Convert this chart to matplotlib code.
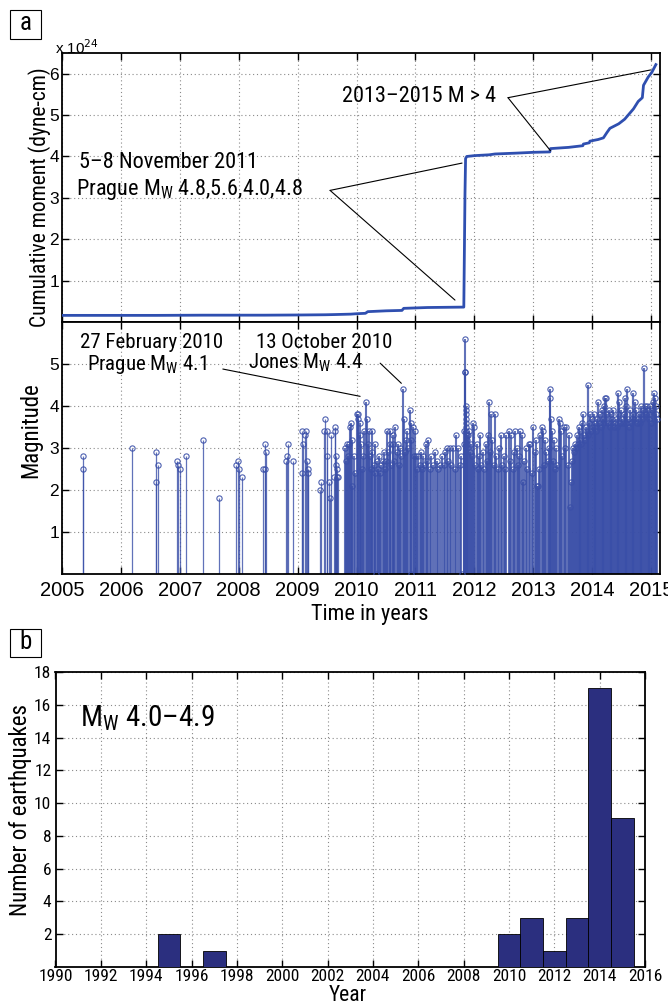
import matplotlib
matplotlib.use("Agg")
import matplotlib.pyplot as plt
import matplotlib.font_manager as fm
import numpy as np

# ---------------- DATA ----------------
# Panel a (top): cumulative seismic moment, units of 1e24 dyne-cm
moment_t = [2005.00, 2005.36, 2006.60, 2007.40, 2008.44, 2009.07, 2009.47, 2009.63,
            2009.90, 2010.00, 2010.15, 2010.19, 2010.50, 2010.77, 2010.80, 2011.20,
            2011.82, 2011.84, 2011.85, 2011.87, 2012.00, 2012.25, 2012.35, 2012.70,
            2013.00, 2013.28, 2013.29, 2013.60, 2013.84, 2013.85, 2013.95, 2013.96,
            2014.10, 2014.19, 2014.25, 2014.30, 2014.45, 2014.55, 2014.64, 2014.70,
            2014.78, 2014.85, 2014.87, 2014.95, 2015.01, 2015.08]
moment_v = [0.16, 0.16, 0.16, 0.165, 0.165, 0.17, 0.175, 0.18,
            0.19, 0.20, 0.21, 0.25, 0.27, 0.28, 0.33, 0.35,
            0.36, 3.10, 3.95, 4.00, 4.02, 4.04, 4.06, 4.08,
            4.10, 4.11, 4.19, 4.22, 4.26, 4.30, 4.33, 4.37,
            4.41, 4.45, 4.58, 4.68, 4.79, 4.90, 5.05, 5.15,
            5.33, 5.42, 5.72, 5.92, 6.03, 6.22]

# Panel a (bottom): earthquake magnitudes (time in decimal years, magnitude)
quakes_2005_2009 = [
    (2005.36, 2.8), (2005.36, 2.5), (2006.19, 3.0), (2006.60, 2.9), (2006.60, 2.2),
    (2006.63, 2.6), (2006.96, 2.7), (2006.97, 2.6), (2007.01, 2.5), (2007.11, 2.8),
    (2007.40, 3.2), (2007.67, 1.8), (2007.95, 2.6), (2007.99, 2.7), (2008.01, 2.5),
    (2008.06, 2.3), (2008.42, 2.5), (2008.44, 3.1), (2008.44, 2.5), (2008.47, 2.9),
    (2008.80, 2.7), (2008.82, 2.8), (2008.83, 3.1), (2008.92, 2.7),
    (2009.07, 3.4), (2009.08, 2.4), (2009.09, 3.1), (2009.12, 3.3), (2009.14, 3.4),
    (2009.16, 2.7), (2009.17, 2.5), (2009.18, 2.4), (2009.38, 2.0), (2009.40, 2.2),
    (2009.44, 3.4), (2009.47, 3.7), (2009.49, 3.4), (2009.50, 2.8), (2009.53, 2.2),
    (2009.55, 1.8), (2009.56, 3.3), (2009.61, 2.3), (2009.63, 3.5), (2009.64, 3.4),
    (2009.645, 2.8), (2009.65, 2.6), (2009.66, 2.5), (2009.67, 2.3), (2009.69, 2.3),
]
quakes_2009_2011 = [
    (2009.80, 3.0), (2009.82, 2.7), (2009.84, 3.1), (2009.86, 2.8), (2009.87, 3.1),
    (2009.89, 3.5), (2009.90, 3.6), (2009.92, 3.2), (2009.93, 2.1), (2009.95, 2.8),
    (2009.97, 2.4), (2010.00, 3.8), (2010.02, 3.8), (2010.03, 3.7), (2010.05, 3.6),
    (2010.06, 3.3), (2010.08, 3.1), (2010.09, 2.5), (2010.11, 2.8), (2010.13, 3.4),
    (2010.16, 4.1), (2010.18, 3.7), (2010.19, 3.1), (2010.21, 3.4), (2010.22, 2.8),
    (2010.24, 2.5), (2010.26, 3.4), (2010.27, 2.9), (2010.29, 2.6), (2010.31, 3.1),
    (2010.32, 2.4), (2010.33, 0.0), (2010.34, 2.7), (2010.36, 2.5), (2010.38, 2.8),
    (2010.40, 2.4), (2010.42, 2.6), (2010.44, 2.7), (2010.46, 2.9), (2010.48, 2.5),
    (2010.50, 2.7), (2010.52, 3.4), (2010.54, 2.9), (2010.56, 3.1), (2010.57, 3.4),
    (2010.59, 2.6), (2010.61, 3.1), (2010.62, 3.3), (2010.64, 2.7), (2010.66, 3.5),
    (2010.68, 2.9), (2010.70, 3.1), (2010.72, 2.6), (2010.74, 3.0), (2010.76, 2.8),
    (2010.78, 4.4), (2010.80, 3.7), (2010.82, 2.9), (2010.84, 3.2), (2010.86, 3.4),
    (2010.88, 3.0), (2010.90, 3.9), (2010.92, 3.6), (2010.93, 0.0), (2010.93, 3.2),
    (2010.95, 3.5), (2010.97, 2.8), (2010.99, 3.4),
]
quakes_2011_2013 = [
    (2011.01, 2.8), (2011.03, 2.5), (2011.05, 2.8), (2011.07, 2.6), (2011.09, 2.9),
    (2011.11, 2.5), (2011.13, 2.8), (2011.15, 2.6), (2011.17, 3.1), (2011.19, 2.7),
    (2011.22, 3.2), (2011.24, 2.5), (2011.27, 2.8), (2011.30, 2.6), (2011.33, 2.9),
    (2011.36, 2.7), (2011.39, 2.5), (2011.42, 2.6), (2011.45, 2.8), (2011.48, 2.6),
    (2011.50, 2.9), (2011.53, 3.0), (2011.56, 2.7), (2011.58, 3.0), (2011.61, 2.6),
    (2011.64, 3.0), (2011.67, 2.5), (2011.69, 3.3), (2011.72, 3.0), (2011.75, 2.6),
    (2011.78, 2.8), (2011.79, 0.0), (2011.82, 3.1), (2011.83, 3.4), (2011.84, 5.6),
    (2011.84, 4.8), (2011.845, 4.8), (2011.85, 4.0), (2011.85, 3.9), (2011.85, 3.8),
    (2011.855, 3.7), (2011.86, 3.6), (2011.86, 3.5), (2011.865, 3.4), (2011.87, 3.3),
    (2011.87, 3.2), (2011.875, 3.1), (2011.88, 3.0), (2011.89, 3.3), (2011.90, 3.4),
    (2011.92, 2.9), (2011.94, 3.1), (2011.96, 2.8), (2011.98, 3.6), (2011.99, 3.5),
    (2012.01, 2.6), (2012.04, 3.1), (2012.06, 2.5), (2012.08, 2.8), (2012.10, 3.3),
    (2012.12, 2.6), (2012.14, 2.9), (2012.16, 2.5), (2012.19, 3.1), (2012.21, 2.7),
    (2012.23, 3.3), (2012.25, 4.1), (2012.27, 2.9), (2012.28, 3.8), (2012.30, 3.2),
    (2012.33, 2.6), (2012.35, 3.8), (2012.37, 2.8), (2012.40, 2.5), (2012.42, 3.0),
    (2012.45, 3.3), (2012.47, 2.6), (2012.50, 2.8), (2012.52, 2.5), (2012.54, 3.3),
    (2012.58, 3.4), (2012.60, 2.7), (2012.62, 3.3), (2012.65, 2.5), (2012.67, 2.9),
    (2012.69, 3.4), (2012.72, 3.0), (2012.74, 2.6), (2012.76, 2.8), (2012.78, 3.4),
    (2012.80, 3.3), (2012.82, 2.2), (2012.85, 2.7), (2012.87, 3.0), (2012.90, 2.5),
    (2012.92, 3.1), (2012.95, 3.1), (2012.97, 2.4), (2013.00, 3.5),
]
quakes_2013 = [
    (2013.02, 2.9), (2013.04, 3.2), (2013.06, 2.1), (2013.08, 2.1), (2013.10, 2.5),
    (2013.12, 3.3), (2013.14, 3.5), (2013.16, 3.4), (2013.18, 2.6), (2013.20, 3.2),
    (2013.22, 2.9), (2013.25, 2.7), (2013.27, 3.0), (2013.29, 4.4), (2013.29, 4.2),
    (2013.30, 3.7), (2013.31, 3.4), (2013.33, 2.7), (2013.35, 3.2), (2013.37, 2.5),
    (2013.39, 3.0), (2013.41, 2.6), (2013.43, 3.7), (2013.45, 3.6), (2013.47, 3.4),
    (2013.49, 2.8), (2013.52, 3.5), (2013.54, 3.0), (2013.56, 3.5), (2013.58, 2.6),
    (2013.60, 3.3), (2013.62, 1.6), (2013.64, 2.2), (2013.66, 2.7),
]
quakes_2013_2015 = [
    (2013.680, 3.0), (2013.695, 2.9), (2013.710, 3.1), (2013.725, 3.0), (2013.740, 3.3),
    (2013.755, 3.1), (2013.770, 3.5), (2013.785, 3.2), (2013.800, 3.4), (2013.815, 3.1),
    (2013.830, 3.6), (2013.845, 3.8), (2013.860, 3.3), (2013.875, 3.2), (2013.890, 3.5),
    (2013.905, 3.4), (2013.920, 3.3), (2013.935, 4.5), (2013.950, 3.6), (2013.965, 3.8),
    (2013.980, 3.4), (2013.995, 3.7), (2014.010, 3.5), (2014.025, 3.8), (2014.040, 3.6),
    (2014.055, 3.5), (2014.070, 3.4), (2014.085, 3.7), (2014.100, 4.1), (2014.115, 3.6),
    (2014.130, 3.8), (2014.145, 3.5), (2014.160, 3.9), (2014.175, 3.6), (2014.190, 3.7),
    (2014.205, 4.0), (2014.220, 4.2), (2014.235, 4.2), (2014.250, 3.8), (2014.265, 3.6),
    (2014.280, 3.9), (2014.295, 3.5), (2014.310, 3.8), (2014.325, 3.6), (2014.340, 3.7),
    (2014.355, 3.9), (2014.370, 3.5), (2014.385, 3.6), (2014.400, 3.7), (2014.415, 3.5),
    (2014.430, 4.3), (2014.445, 3.8), (2014.460, 4.1), (2014.475, 3.6), (2014.490, 3.9),
    (2014.505, 3.7), (2014.520, 3.6), (2014.535, 3.8), (2014.550, 4.2), (2014.565, 3.6),
    (2014.580, 4.0), (2014.595, 4.4), (2014.610, 3.7), (2014.625, 3.5), (2014.640, 3.9),
    (2014.655, 3.6), (2014.670, 3.7), (2014.685, 3.8), (2014.700, 4.3), (2014.715, 3.7),
    (2014.730, 4.1), (2014.745, 3.9), (2014.760, 3.6), (2014.775, 3.7), (2014.790, 3.8),
    (2014.805, 3.6), (2014.820, 4.0), (2014.835, 3.8), (2014.850, 3.7), (2014.865, 3.9),
    (2014.880, 4.9), (2014.895, 4.0), (2014.910, 3.8), (2014.925, 4.0), (2014.940, 3.9),
    (2014.955, 3.7), (2014.970, 3.8), (2014.985, 4.0), (2015.000, 3.6), (2015.015, 3.9),
    (2015.030, 4.1), (2015.045, 4.3), (2015.060, 4.2), (2015.075, 4.0), (2015.090, 3.8),
    (2015.100, 3.7),
]

# Panel b: yearly number of Mw 4.0-4.9 earthquakes
bar_years = [1995, 1997, 2010, 2011, 2012, 2013, 2014, 2015]
bar_counts = [2, 1, 2, 3, 1, 3, 17, 9.1]

year_ticks_a = list(range(2005, 2016))
year_ticks_b = list(range(1990, 2017, 2))

# ---------------- FONTS ----------------
names = {f.name for f in fm.fontManager.ttflist}
COND = None
for cand in ["Roboto Condensed", "Open Sans Condensed", "Liberation Sans Narrow",
             "Noto Sans Condensed", "DejaVu Sans Condensed"]:
    if cand in names:
        COND = dict(family=cand)
        break
if COND is None:
    has_dv_cond = any(f.name == "DejaVu Sans" and "ondensed" in str(f.stretch)
                      for f in fm.fontManager.ttflist)
    COND = dict(family="DejaVu Sans", stretch="condensed") if has_dv_cond else dict(family="DejaVu Sans")
REG = "Liberation Sans" if "Liberation Sans" in names else "DejaVu Sans"
plt.rcParams["font.family"] = [REG, "DejaVu Sans"]
plt.rcParams["mathtext.fontset"] = "custom"

W, H = 668, 1005
fig = plt.figure(figsize=(W / 100, H / 100), dpi=100)


def rect(x0, y0, x1, y1):
    return [x0 / W, 1 - y1 / H, (x1 - x0) / W, (y1 - y0) / H]


def fpt(x, y):
    return (x / W, 1 - y / H)


GRID = dict(color="#8a8a8a", linestyle=(0, (1, 2.5)), linewidth=0.8)


def style(ax):
    ax.tick_params(direction="in", length=5, width=1.0, top=True, right=True,
                   colors="black")
    for s in ax.spines.values():
        s.set_linewidth(1.3)
    ax.grid(True, **GRID)
    ax.set_axisbelow(True)


LINE_C = "#2f4fb0"
STEM_C = "#3a4fa8"

# ---- top axes: cumulative moment
ax1 = fig.add_axes(rect(62, 53, 660, 322))
ax1.plot(moment_t, moment_v, color=LINE_C, lw=2.0, zorder=3)
ax1.set_xlim(2005, 2015.15)
ax1.set_ylim(0, 6.5)
ax1.set_xticks(year_ticks_a)
ax1.set_xticklabels([])
ax1.set_yticks([1, 2, 3, 4, 5, 6])
style(ax1)
ax1.tick_params(axis="y", labelsize=12.5, pad=2)

fig.text(*fpt(55, 48), r"x 10$^{24}$", fontsize=11, ha="left", va="center",
         family=REG)

# ---- bottom axes: magnitudes
ax2 = fig.add_axes(rect(62, 322, 660, 574))
groups = [(quakes_2005_2009, 0.9), (quakes_2009_2011, 1.5), (quakes_2011_2013, 1.5),
          (quakes_2013, 1.5), (quakes_2013_2015, 1.6)]
for grp, lw in groups:
    gt = np.array([q[0] for q in grp])
    gm = np.array([q[1] for q in grp])
    ax2.vlines(gt, 0, gm, colors=STEM_C, lw=lw, alpha=0.8, zorder=2)
    ax2.plot(gt, gm, "o", mfc="none", mec=STEM_C, ms=3.8, mew=0.8, alpha=0.9, zorder=3)
ax2.set_xlim(2005, 2015.15)
ax2.set_ylim(0, 6)
ax2.set_xticks(year_ticks_a)
ax2.set_xticklabels([str(y) for y in year_ticks_a])
ax2.set_yticks([1, 2, 3, 4, 5])
style(ax2)
ax2.tick_params(axis="y", labelsize=12.5, pad=2)
ax2.tick_params(axis="x", labelsize=14.5, pad=5)

# axis labels panel a
fig.text(*fpt(40, 197), "Cumulative moment (dyne-cm)", rotation=90, ha="center",
         va="center", fontsize=15.5, **COND)
fig.text(*fpt(31, 430), "Magnitude", rotation=90, ha="center", va="center",
         fontsize=16.5, **COND)
fig.text(*fpt(370, 614), "Time in years", ha="center", va="center", fontsize=16, **COND)

# annotations top
ANN = dict(fontsize=16, **COND)
fig.text(*fpt(79, 163), "5\u20138 November 2011", ha="left", va="center", **ANN)
fig.text(*fpt(76, 190), r"Prague M$_\mathregular{W}$ 4.8,5.6,4.0,4.8", ha="left",
         va="center", **ANN)
fig.text(*fpt(342, 97), "2013\u20132015 M > 4", ha="left", va="center", **ANN)
LN = dict(arrowprops=dict(arrowstyle="-", color="black", lw=0.8, shrinkA=0, shrinkB=0))
ax1.annotate("", xy=(2011.79, 3.84), xytext=(2009.55, 3.18), **LN)
ax1.annotate("", xy=(2011.67, 0.53), xytext=(2009.55, 3.18), **LN)
ax1.annotate("", xy=(2014.99, 6.09), xytext=(2012.57, 5.42), **LN)
ax1.annotate("", xy=(2013.29, 4.14), xytext=(2012.57, 5.42), **LN)

# annotations bottom
ANN2 = dict(fontsize=15, **COND)
fig.text(*fpt(80, 342), "27 February 2010", ha="left", va="center", **ANN2)
fig.text(*fpt(87, 364), r"Prague M$_\mathregular{W}$ 4.1", ha="left", va="center", **ANN2)
fig.text(*fpt(256, 342), "13 October 2010", ha="left", va="center", **ANN2)
fig.text(*fpt(248, 363), r"Jones M$_\mathregular{W}$ 4.4", ha="left", va="center", **ANN2)
ax2.annotate("", xy=(2010.06, 4.23), xytext=(2007.73, 4.88), **LN)
ax2.annotate("", xy=(2010.76, 4.54), xytext=(2010.40, 5.02), **LN)


# panel letters
def letter(x0, y0, x1, y1, s):
    fig.patches.append(plt.Rectangle(fpt(x0, y1), (x1 - x0) / W, (y1 - y0) / H,
                                     transform=fig.transFigure, fill=True,
                                     facecolor="white", edgecolor="black", lw=0.8))
    fig.text(*fpt((x0 + x1) / 2, (y0 + y1) / 2 - 1), s, ha="center", va="center",
             fontsize=18, **COND)


letter(10, 10, 41, 39, "a")
letter(10, 629, 41, 657, "b")

# ---- panel b
ax3 = fig.add_axes(rect(55.5, 672, 645, 967))
ax3.bar(bar_years, bar_counts, width=1.0, color="#2b2f7f", edgecolor="black",
        linewidth=0.6, zorder=3)
ax3.set_xlim(1990, 2016)
ax3.set_ylim(0, 18)
ax3.set_xticks(year_ticks_b)
ax3.set_yticks(list(range(2, 19, 2)))
style(ax3)
ax3.tick_params(axis="y", labelsize=12.5, pad=3)
ax3.tick_params(axis="x", labelsize=12.5, pad=1.5)
for lab in ax3.get_xticklabels() + ax3.get_yticklabels():
    lab.set(**COND)
ax3.text(1991.1, 15.2, r"M$_\mathregular{W}$ 4.0" + "\u2013" + "4.9", fontsize=21,
         ha="left", va="center", **COND)
fig.text(*fpt(348, 995), "Year", ha="center", va="center", fontsize=15.5, **COND)
fig.text(*fpt(21, 810), "Number of earthquakes", rotation=90, ha="center",
         va="center", fontsize=16.5, **COND)

fig.savefig("out.png", dpi=100)
